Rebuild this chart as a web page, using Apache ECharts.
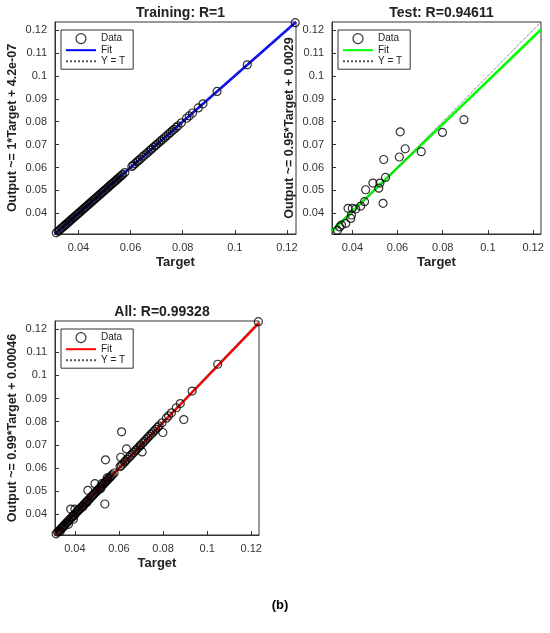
<!DOCTYPE html>
<html><head><meta charset="utf-8">
<script src="https://cdn.jsdelivr.net/npm/echarts@6/dist/echarts.min.js"></script>
<style>html,body{margin:0;padding:0;background:#fff}#c{width:550px;height:633px}</style>
</head><body><div id="c"></div>
<script>
const trainTarget = [0.0315,0.0322,0.0328,0.0333,0.0338,0.0343,0.0348,0.0352,0.0357,0.0362,0.0366,0.0371,0.0375,0.038,0.0385,0.039,0.0395,0.04,0.0405,0.041,0.0415,0.042,0.0425,0.043,0.0435,0.044,0.0445,0.045,0.0455,0.046,0.0465,0.047,0.0475,0.048,0.0485,0.049,0.0495,0.05,0.0505,0.051,0.0515,0.052,0.0525,0.053,0.0535,0.054,0.0545,0.055,0.0555,0.056,0.0565,0.057,0.0578,0.0605,0.061,0.0617,0.0625,0.063,0.0637,0.0645,0.0652,0.066,0.0667,0.0675,0.068,0.0688,0.0695,0.07,0.0708,0.0715,0.0722,0.073,0.0737,0.0745,0.0752,0.076,0.0767,0.0775,0.0782,0.0795,0.0815,0.0825,0.0838,0.086,0.0878,0.0932,0.1048,0.1232];
const trainOutput = [0.0315,0.0322,0.0328,0.0333,0.0338,0.0343,0.0348,0.0352,0.0357,0.0362,0.0366,0.0371,0.0375,0.038,0.0385,0.039,0.0395,0.04,0.0405,0.041,0.0415,0.042,0.0425,0.043,0.0435,0.044,0.0445,0.045,0.0455,0.046,0.0465,0.047,0.0475,0.048,0.0485,0.049,0.0495,0.05,0.0505,0.051,0.0515,0.052,0.0525,0.053,0.0535,0.054,0.0545,0.055,0.0555,0.056,0.0565,0.057,0.0578,0.0605,0.061,0.0617,0.0625,0.063,0.0637,0.0645,0.0652,0.066,0.0667,0.0675,0.068,0.0688,0.0695,0.07,0.0708,0.0715,0.0722,0.073,0.0737,0.0745,0.0752,0.076,0.0767,0.0775,0.0782,0.0795,0.0815,0.0825,0.0838,0.086,0.0878,0.0932,0.1048,0.1232];
const testTarget = [0.0334,0.0344,0.0352,0.0371,0.0381,0.0393,0.0396,0.04,0.0415,0.0437,0.0454,0.0459,0.0491,0.0517,0.0522,0.0536,0.0539,0.0547,0.0608,0.0612,0.0634,0.0705,0.0799,0.0894];
const testOutput = [0.0326,0.0341,0.0349,0.0356,0.0422,0.0378,0.0393,0.0422,0.0419,0.0432,0.0451,0.0503,0.0532,0.051,0.0532,0.0444,0.0635,0.0557,0.0646,0.0756,0.0682,0.0669,0.0753,0.0809];
const fitTrain = [1, 4.2e-07];
const fitTest = [0.95, 0.0029];
const fitAll = [0.99, 0.00046];
const titles = ['Training: R=1','Test: R=0.94611','All: R=0.99328'];
const yNames = ['Output ~= 1*Target + 4.2e-07','Output ~= 0.95*Target + 0.0029','Output ~= 0.99*Target + 0.00046'];
const fitColors = ['#0000ff','#00ff00','#ff0000'];
const axMin = 0.031, axMax = 0.1235;

const allTarget = trainTarget.concat(testTarget);
const allOutput = trainOutput.concat(testOutput);
const sets = [[trainTarget,trainOutput,fitTrain],[testTarget,testOutput,fitTest],[allTarget,allOutput,fitAll]];
const grids = [
  {left:55, top:22, width:241, height:212},
  {left:332, top:22, width:209, height:212},
  {left:55, top:321, width:204, height:214}
];
const font = 'Arial, "Liberation Sans", sans-serif';
const option = {animation:false, textStyle:{fontFamily:font},
  title: titles.map((t,i)=>({text:t, left:grids[i].left+grids[i].width/2, textAlign:'center', top:grids[i].top-21,
    textStyle:{fontSize:14,fontWeight:'bold',color:'#222',fontFamily:font}})).concat([{text:'(b)',left:275,textAlign:'center',top:594,textStyle:{fontSize:13,fontWeight:'bold',color:'#000',fontFamily:font}}]),
  grid: grids.map(g=>Object.assign({show:true,borderColor:'#333',borderWidth:1,backgroundColor:'#fff'},g)),
  xAxis: grids.map((g,i)=>({type:'value',gridIndex:i,min:axMin,max:axMax,interval:0.02,
    axisLabel:{fontSize:11,color:'#333',customValues:[0.04,0.06,0.08,0.1,0.12],formatter:v=>String(+v.toFixed(2))},
    axisTick:{inside:true,length:4,customValues:[0.04,0.06,0.08,0.1,0.12],lineStyle:{color:'#333'}},
    axisLine:{lineStyle:{color:'#333'}},splitLine:{show:false},
    name:'Target',nameLocation:'middle',nameGap:22,nameTextStyle:{fontSize:13,fontWeight:'bold',color:'#222'}})),
  yAxis: grids.map((g,i)=>({type:'value',gridIndex:i,min:axMin,max:axMax,
    axisLabel:{fontSize:11,color:'#333',customValues:[0.04,0.05,0.06,0.07,0.08,0.09,0.1,0.11,0.12],formatter:v=>String(+v.toFixed(2))},
    axisTick:{inside:true,length:4,customValues:[0.04,0.05,0.06,0.07,0.08,0.09,0.1,0.11,0.12],lineStyle:{color:'#333'}},
    axisLine:{lineStyle:{color:'#333'}},splitLine:{show:false},
    name:yNames[i],nameLocation:'middle',nameGap:36,nameTextStyle:{fontSize:12.5,fontWeight:'bold',color:'#222'}})),
  legend: grids.map((g,i)=>({orient:'vertical',left:g.left+6,top:g.top+8,
    data:[{name:'Data'+i,icon:'circle',itemStyle:{color:'rgba(0,0,0,0)',borderColor:'#000',borderWidth:1.2}},
          {name:'Fit'+i,itemStyle:{opacity:0}},{name:'Y = T'+i,itemStyle:{opacity:0}}],
    formatter:n=>n.slice(0,-1),
    backgroundColor:'#fff',borderColor:'#333',borderWidth:1,borderRadius:0,padding:[3,8,3,4],itemGap:1,
    itemWidth:30,itemHeight:10,textStyle:{fontSize:10,color:'#222'},selectedMode:false})),
  series: []
};
sets.forEach((s,i)=>{
  const [tx,ty,f]=s;
  option.series.push({name:'Fit'+i,type:'line',xAxisIndex:i,yAxisIndex:i,symbol:'none',
    data:[[axMin,f[0]*axMin+f[1]],[axMax,f[0]*axMax+f[1]]],lineStyle:{color:fitColors[i],width:2.5},itemStyle:{color:fitColors[i]},z:2});
  option.series.push({name:'Y = T'+i,type:'line',xAxisIndex:i,yAxisIndex:i,symbol:'none',
    data:[[axMin,axMin],[axMax,axMax]],lineStyle:{color:'#555',width:1,type:'dotted'},itemStyle:{color:'#555'},z:3});
  option.series.push({name:'Data'+i,type:'scatter',xAxisIndex:i,yAxisIndex:i,symbol:'circle',symbolSize:8,
    data:tx.map((x,k)=>[x,ty[k]]),itemStyle:{color:'rgba(0,0,0,0)',borderColor:'#000',borderWidth:1.2},z:4});
});
echarts.init(document.getElementById('c')).setOption(option);
</script></body></html>
